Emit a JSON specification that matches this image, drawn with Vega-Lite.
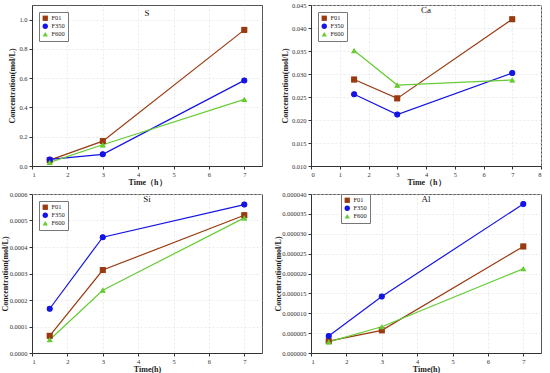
{
  "$schema": "https://vega.github.io/schema/vega-lite/v6.json",
  "padding": {"left": 0, "top": 1, "right": 0, "bottom": 0},
  "background": "white",
  "datasets": {
    "conc": [
      {"el": "S", "sample": "F01", "t": 1.5, "c": 0.04},
      {"el": "S", "sample": "F01", "t": 3, "c": 0.17},
      {"el": "S", "sample": "F01", "t": 7, "c": 0.93},
      {"el": "S", "sample": "F350", "t": 1.5, "c": 0.045},
      {"el": "S", "sample": "F350", "t": 3, "c": 0.08},
      {"el": "S", "sample": "F350", "t": 7, "c": 0.585},
      {"el": "S", "sample": "F600", "t": 1.5, "c": 0.025},
      {"el": "S", "sample": "F600", "t": 3, "c": 0.145},
      {"el": "S", "sample": "F600", "t": 7, "c": 0.455},
      {"el": "Ca", "sample": "F01", "t": 1.5, "c": 0.0288},
      {"el": "Ca", "sample": "F01", "t": 3, "c": 0.0247},
      {"el": "Ca", "sample": "F01", "t": 7, "c": 0.0419},
      {"el": "Ca", "sample": "F350", "t": 1.5, "c": 0.0256},
      {"el": "Ca", "sample": "F350", "t": 3, "c": 0.0212},
      {"el": "Ca", "sample": "F350", "t": 7, "c": 0.0302},
      {"el": "Ca", "sample": "F600", "t": 1.5, "c": 0.0351},
      {"el": "Ca", "sample": "F600", "t": 3, "c": 0.0276},
      {"el": "Ca", "sample": "F600", "t": 7, "c": 0.0287},
      {"el": "Si", "sample": "F01", "t": 1.5, "c": 0.000065},
      {"el": "Si", "sample": "F01", "t": 3, "c": 0.000313},
      {"el": "Si", "sample": "F01", "t": 7, "c": 0.00052},
      {"el": "Si", "sample": "F350", "t": 1.5, "c": 0.000167},
      {"el": "Si", "sample": "F350", "t": 3, "c": 0.000437},
      {"el": "Si", "sample": "F350", "t": 7, "c": 0.00056},
      {"el": "Si", "sample": "F600", "t": 1.5, "c": 0.00005},
      {"el": "Si", "sample": "F600", "t": 3, "c": 0.000237},
      {"el": "Si", "sample": "F600", "t": 7, "c": 0.00051},
      {"el": "Al", "sample": "F01", "t": 1.5, "c": 0.000003},
      {"el": "Al", "sample": "F01", "t": 3, "c": 0.0000057},
      {"el": "Al", "sample": "F01", "t": 7, "c": 0.0000268},
      {"el": "Al", "sample": "F350", "t": 1.5, "c": 0.0000043},
      {"el": "Al", "sample": "F350", "t": 3, "c": 0.0000142},
      {"el": "Al", "sample": "F350", "t": 7, "c": 0.0000375},
      {"el": "Al", "sample": "F600", "t": 1.5, "c": 0.0000028},
      {"el": "Al", "sample": "F600", "t": 3, "c": 0.0000066},
      {"el": "Al", "sample": "F600", "t": 7, "c": 0.0000212}
    ]
  },
  "columns": 2,
  "spacing": {"column": 10, "row": 3},
  "concat": [
    {
      "width": 230, "height": 161,
      "title": {"text": "S", "offset": -13},
      "data": {"name": "conc"},
      "transform": [{"filter": "datum.el === 'S'"}],
      "encoding": {
        "x": {"field": "t", "type": "quantitative", "scale": {"domain": [1, 7.5]}, "axis": {"title": "Time（h）", "values": [1,2,3,4,5,6,7]}},
        "y": {"field": "c", "type": "quantitative", "scale": {"domain": [0, 1.1]}, "axis": {"title": "Concentration(mol/L)", "values": [0,0.2,0.4,0.6,0.8,1.0], "format": ".1f", "minExtent": 14, "maxExtent": 14, "titlePadding": 2}},
        "color": {"field": "sample", "type": "nominal", "scale": {"domain": ["F01","F350","F600"], "range": ["#9A3A10","#1414E6","#66CC33"]}, "legend": {"title": null, "orient": "top-left", "offset": 7}},
        "shape": {"field": "sample", "type": "nominal", "scale": {"domain": ["F01","F350","F600"], "range": ["square","circle","triangle-up"]}, "legend": {"title": null, "orient": "top-left", "offset": 7}}
      },
      "layer": [
        {"mark": {"type": "line", "strokeWidth": 1.2}},
        {"mark": {"type": "point", "filled": true, "opacity": 1, "size": 36}}
      ]
    },
    {
      "width": 230, "height": 161,
      "title": {"text": "Ca", "offset": -13},
      "data": {"name": "conc"},
      "transform": [{"filter": "datum.el === 'Ca'"}],
      "encoding": {
        "x": {"field": "t", "type": "quantitative", "scale": {"domain": [0, 8]}, "axis": {"title": "Time（h）", "values": [0,1,2,3,4,5,6,7,8]}},
        "y": {"field": "c", "type": "quantitative", "scale": {"domain": [0.01, 0.045]}, "axis": {"title": "Concentration(mol/L)", "values": [0.010,0.015,0.020,0.025,0.030,0.035,0.040,0.045], "format": ".3f", "minExtent": 20, "maxExtent": 20, "titlePadding": 2}},
        "color": {"field": "sample", "type": "nominal", "scale": {"domain": ["F01","F350","F600"], "range": ["#9A3A10","#1414E6","#66CC33"]}, "legend": {"title": null, "orient": "top-left", "offset": 7}},
        "shape": {"field": "sample", "type": "nominal", "scale": {"domain": ["F01","F350","F600"], "range": ["square","circle","triangle-up"]}, "legend": {"title": null, "orient": "top-left", "offset": 7}}
      },
      "layer": [
        {"mark": {"type": "line", "strokeWidth": 1.2}},
        {"mark": {"type": "point", "filled": true, "opacity": 1, "size": 36}}
      ]
    },
    {
      "width": 230, "height": 159,
      "title": {"text": "Si", "offset": -13},
      "data": {"name": "conc"},
      "transform": [{"filter": "datum.el === 'Si'"}],
      "encoding": {
        "x": {"field": "t", "type": "quantitative", "scale": {"domain": [1, 7.5]}, "axis": {"title": "Time(h)", "values": [1,2,3,4,5,6,7]}},
        "y": {"field": "c", "type": "quantitative", "scale": {"domain": [0, 0.0006]}, "axis": {"title": "Concentration(mol/L)", "values": [0,0.0001,0.0002,0.0003,0.0004,0.0005,0.0006], "format": ".4f", "minExtent": 21, "maxExtent": 21, "titlePadding": 2}},
        "color": {"field": "sample", "type": "nominal", "scale": {"domain": ["F01","F350","F600"], "range": ["#9A3A10","#1414E6","#66CC33"]}, "legend": {"title": null, "orient": "top-left", "offset": 7}},
        "shape": {"field": "sample", "type": "nominal", "scale": {"domain": ["F01","F350","F600"], "range": ["square","circle","triangle-up"]}, "legend": {"title": null, "orient": "top-left", "offset": 7}}
      },
      "layer": [
        {"mark": {"type": "line", "strokeWidth": 1.2}},
        {"mark": {"type": "point", "filled": true, "opacity": 1, "size": 36}}
      ]
    },
    {
      "width": 230, "height": 159,
      "title": {"text": "Al", "offset": -13},
      "data": {"name": "conc"},
      "transform": [{"filter": "datum.el === 'Al'"}],
      "encoding": {
        "x": {"field": "t", "type": "quantitative", "scale": {"domain": [1, 7.5]}, "axis": {"title": "Time(h)", "values": [1,2,3,4,5,6,7]}},
        "y": {"field": "c", "type": "quantitative", "scale": {"domain": [0, 0.00004]}, "axis": {"title": "Concentration(mol/L)", "values": [0,0.000005,0.00001,0.000015,0.00002,0.000025,0.00003,0.000035,0.00004], "format": ".6f", "minExtent": 27, "maxExtent": 27, "titlePadding": 2}},
        "color": {"field": "sample", "type": "nominal", "scale": {"domain": ["F01","F350","F600"], "range": ["#9A3A10","#1414E6","#66CC33"]}, "legend": {"title": null, "orient": "none", "legendX": 30, "legendY": 0}},
        "shape": {"field": "sample", "type": "nominal", "scale": {"domain": ["F01","F350","F600"], "range": ["square","circle","triangle-up"]}, "legend": {"title": null, "orient": "none", "legendX": 30, "legendY": 0}}
      },
      "layer": [
        {"mark": {"type": "line", "strokeWidth": 1.2}},
        {"mark": {"type": "point", "filled": true, "opacity": 1, "size": 36}}
      ]
    }
  ],
  "resolve": {"scale": {"color": "independent", "shape": "independent"}},
  "config": {
    "font": "Liberation Serif",
    "view": {"stroke": "#555", "strokeWidth": 1},
    "title": {"fontSize": 9, "fontWeight": "normal", "color": "#111", "anchor": "middle", "baseline": "top"},
    "axis": {
      "labelFont": "Liberation Serif", "labelFontSize": 6.5, "labelColor": "#333",
      "titleFont": "Liberation Serif", "titleFontSize": 8, "titleFontWeight": "bold", "titleColor": "#222",
      "tickSize": 3, "tickColor": "#333", "labelPadding": 2, "domainColor": "#333",
      "grid": true, "gridColor": "#ddd", "gridDash": [2, 2], "gridWidth": 0.6,
      "titlePadding": 1
    },
    "legend": {
      "labelFont": "Liberation Serif", "labelFontSize": 6.5, "labelColor": "#222",
      "strokeColor": "#777", "fillColor": "white", "padding": 3, "rowPadding": 1,
      "symbolSize": 28, "symbolStrokeWidth": 0, "labelOffset": 3, "cornerRadius": 0
    }
  }
}
